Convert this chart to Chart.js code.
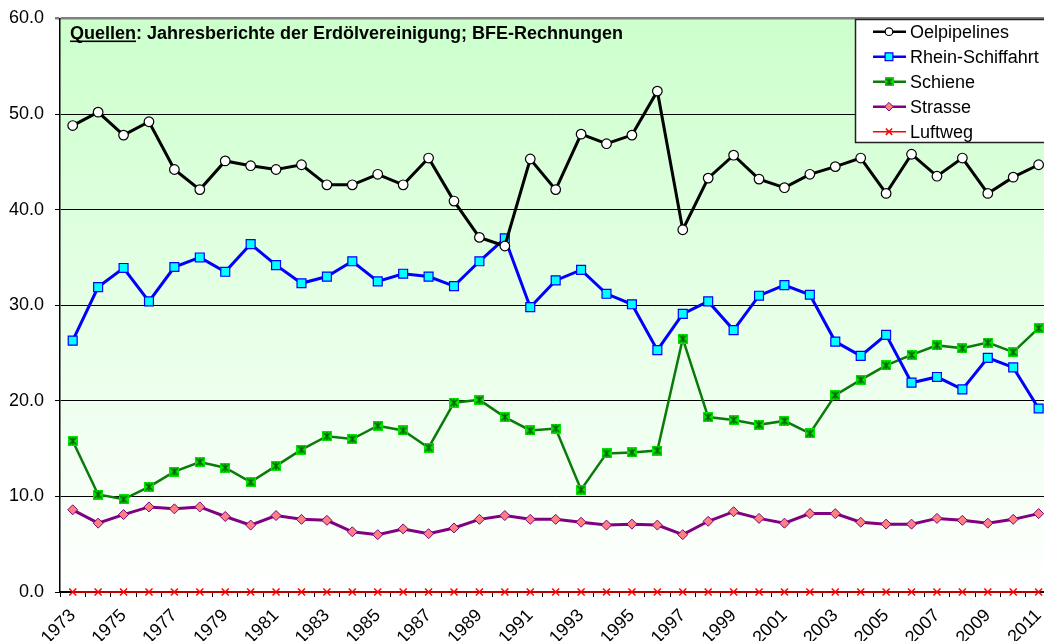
<!DOCTYPE html>
<html><head><meta charset="utf-8">
<script src="https://cdn.jsdelivr.net/npm/chart.js@4.4.0/dist/chart.umd.min.js"></script>
<style>
html,body{margin:0;padding:0;overflow:hidden;background:#fff;width:1044px;height:641px}
#wrap{position:absolute;left:0;top:0;width:1062px;height:641px}
</style></head><body>
<div id="wrap"><canvas id="c" width="1062" height="641"></canvas></div>
<script>
const years = ['1973','1974','1975','1976','1977','1978','1979','1980','1981','1982','1983','1984','1985','1986','1987','1988','1989','1990','1991','1992','1993','1994','1995','1996','1997','1998','1999','2000','2001','2002','2003','2004','2005','2006','2007','2008','2009','2010','2011'];
const oelpipelines = [48.8,50.2,47.8,49.2,44.2,42.1,45.1,44.6,44.2,44.7,42.6,42.6,43.7,42.6,45.4,40.9,37.1,36.2,45.3,42.1,47.9,46.9,47.8,52.4,37.9,43.3,45.7,43.2,42.3,43.7,44.5,45.4,41.7,45.8,43.5,45.4,41.7,43.4,44.7];
const rheinSchiffahrt = [26.3,31.9,33.9,30.4,34.0,35.0,33.5,36.4,34.2,32.3,33.0,34.6,32.5,33.3,33.0,32.0,34.6,37.0,29.8,32.6,33.7,31.2,30.1,25.3,29.1,30.4,27.4,31.0,32.1,31.1,26.2,24.7,26.9,21.9,22.5,21.2,24.5,23.5,19.2];
const schiene = [15.8,10.2,9.7,11.0,12.6,13.6,13.0,11.5,13.2,14.9,16.3,16.0,17.4,16.9,15.1,19.8,20.1,18.3,16.9,17.1,10.7,14.5,14.6,14.8,26.5,18.3,18.0,17.5,17.9,16.6,20.6,22.2,23.7,24.8,25.8,25.5,26.1,25.1,27.6];
const strasse = [8.6,7.2,8.1,8.9,8.7,8.9,7.9,7.0,8.0,7.6,7.5,6.3,6.0,6.6,6.1,6.7,7.6,8.0,7.6,7.6,7.3,7.0,7.1,7.0,6.0,7.4,8.4,7.7,7.2,8.2,8.2,7.3,7.1,7.1,7.7,7.5,7.2,7.6,8.2];
const luftweg = [0,0,0,0,0,0,0,0,0,0,0,0,0,0,0,0,0,0,0,0,0,0,0,0,0,0,0,0,0,0,0,0,0,0,0,0,0,0,0];
const seriesNames = ['Oelpipelines','Rhein-Schiffahrt','Schiene','Strasse','Luftweg'];
const sourceLabel = 'Quellen';
const sourceText = ': Jahresberichte der Erdölvereinigung; BFE-Rechnungen';
const yTicks = [0,10,20,30,40,50,60];

const FONT = '"Liberation Sans", Arial, sans-serif';

// Schiene marker: green square with dark asterisk
function makeStar(s){
  const c = document.createElement('canvas');
  c.width = s; c.height = s;
  const g = c.getContext('2d');
  g.fillStyle = '#00e600'; g.fillRect(0,0,s,s);
  g.strokeStyle = '#0b5d0b'; g.lineWidth = 1.3;
  g.beginPath();
  g.moveTo(1.5,1.5); g.lineTo(s-1.5,s-1.5);
  g.moveTo(s-1.5,1.5); g.lineTo(1.5,s-1.5);
  g.moveTo(s/2,1); g.lineTo(s/2,s-1);
  g.stroke();
  return c;
}
const starBox = makeStar(10);
const starBoxSmall = makeStar(9);

const bgPlugin = {
  id:'bg',
  beforeDraw(chart){
    const {ctx, chartArea:a} = chart;
    ctx.save();
    const gr = ctx.createLinearGradient(0,a.top,0,a.bottom);
    gr.addColorStop(0,'#ccffcc');
    gr.addColorStop(1,'#ffffff');
    ctx.fillStyle = gr;
    ctx.fillRect(a.left,a.top,a.right-a.left,a.bottom-a.top);
    ctx.restore();
  }
};

const legendSizes = [3.8, 5.5, 0, 4.3, 4.5];

const overlayPlugin = {
  id:'overlay',
  afterDraw(chart){
    const ctx = chart.ctx;
    ctx.save();
    // source text
    ctx.font = 'bold 18px ' + FONT;
    ctx.fillStyle = '#000';
    ctx.textBaseline = 'alphabetic';
    const tx = 70, ty = 38.5;
    ctx.fillText(sourceLabel, tx, ty);
    const w = ctx.measureText(sourceLabel).width;
    ctx.fillRect(tx, ty+2, w, 1.6);
    ctx.fillText(sourceText, tx + w, ty);
    // legend box
    const x0 = 855.5, y0 = 19.5, bw = 220, bh = 123;
    ctx.fillStyle = '#fff';
    ctx.fillRect(x0,y0,bw,bh);
    ctx.strokeStyle = '#222'; ctx.lineWidth = 1.5;
    ctx.strokeRect(x0,y0,bw,bh);
    ctx.font = '18px ' + FONT;
    ctx.textBaseline = 'middle';
    chart.data.datasets.forEach((ds,i)=>{
      const y = 31.7 + i*25;
      ctx.strokeStyle = ds.borderColor;
      ctx.lineWidth = Math.min(ds.borderWidth, 2.5);
      ctx.beginPath(); ctx.moveTo(873,y); ctx.lineTo(906,y); ctx.stroke();
      ctx.fillStyle = ds.pointBackgroundColor;
      ctx.strokeStyle = ds.pointBorderColor;
      ctx.lineWidth = ds.pointBorderWidth;
      const ps = (ds.pointStyle === starBox) ? starBoxSmall : ds.pointStyle;
      Chart.helpers.drawPoint(ctx,{pointStyle:ps,radius:legendSizes[i],borderWidth:ds.pointBorderWidth,rotation:0},889,y);
      ctx.fillStyle = '#000';
      ctx.fillText(ds.label, 910, y+1);
    });
    ctx.restore();
  }
};

const mk = (label,data,color,opts) => Object.assign({
  label, data, borderColor:color, fill:false, tension:0, clip:false,
  pointHoverRadius:5
}, opts);

new Chart(document.getElementById('c'), {
  type:'line',
  data:{
    labels: years,
    datasets:[
      mk(seriesNames[0], oelpipelines, '#000000', {borderWidth:3, pointStyle:'circle', pointRadius:4.8, pointBackgroundColor:'#ffffff', pointBorderColor:'#000000', pointBorderWidth:1.2}),
      mk(seriesNames[1], rheinSchiffahrt, '#0000ff', {borderWidth:3, pointStyle:'rect', pointRadius:6.3, pointBackgroundColor:'#00ffff', pointBorderColor:'#0000ff', pointBorderWidth:1.2}),
      mk(seriesNames[2], schiene, '#0a7a0a', {borderWidth:2.5, pointStyle:starBox, pointRadius:5, pointBackgroundColor:'#00e600', pointBorderColor:'#0b5d0b', pointBorderWidth:1}),
      mk(seriesNames[3], strasse, '#800080', {borderWidth:3, pointStyle:'rectRot', pointRadius:5, pointBackgroundColor:'#ff8080', pointBorderColor:'#800080', pointBorderWidth:1}),
      mk(seriesNames[4], luftweg, '#ff0000', {borderWidth:1.5, pointStyle:'crossRot', pointRadius:5, pointBackgroundColor:'#ff0000', pointBorderColor:'#ff0000', pointBorderWidth:1.5})
    ]
  },
  options:{
    responsive:false, animation:false, events:[],
    layout:{padding:{top:18.5,left:0,right:5,bottom:0}},
    plugins:{legend:{display:false}, tooltip:{enabled:false}, title:{display:false}},
    scales:{
      x:{
        offset:true,
        grid:{display:true, drawOnChartArea:false, drawTicks:true, tickLength:5, color:'#000', offset:true, lineWidth:1},
        border:{display:true, color:'#000', width:1.5},
        ticks:{autoSkip:false, minRotation:45, maxRotation:45, padding:8, color:'#000',
          font:{family:FONT, size:18},
          callback:(v,i)=> i%2===0 ? years[i] : ''},
        afterFit:(s)=>{s.height = 49;}
      },
      y:{
        min:0, max:60,
        afterBuildTicks:(s)=>{ s.ticks = yTicks.map(v=>({value:v})); },
        grid:{color:(c)=> c.tick && c.tick.value===60 ? '#808080' : '#000',
              lineWidth:(c)=> c.tick && c.tick.value===60 ? 2.5 : 1,
              tickLength:5, drawTicks:true},
        border:{display:true, color:'#000', width:1.5},
        ticks:{padding:11, color:'#000', font:{family:FONT, size:18},
          callback:(v)=> Number(v).toFixed(1)},
        afterFit:(s)=>{s.width = 60; s.paddingTop = 0; s.paddingBottom = 0;}
      }
    }
  },
  plugins:[bgPlugin, overlayPlugin]
});
</script>
</body></html>
